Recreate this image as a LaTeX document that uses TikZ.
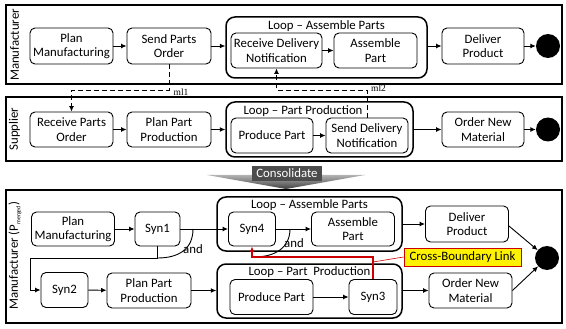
\documentclass[tikz,border=0pt]{standalone}
\usepackage{fontspec}
\setmainfont{Carlito}
\newfontfamily\msgfont{Liberation Serif}
\usetikzlibrary{arrows.meta,calc}

\begin{document}
\begin{tikzpicture}[x=1pt,y=-1pt,
  font=\fontsize{12.8}{14.5}\selectfont,
  act/.style={draw, rounded corners=5pt, line width=0.9pt, align=center,
    inner sep=0pt, minimum height=35pt},
  syn/.style={act, minimum width=47pt},
  loopbox/.style={draw, rounded corners=9pt, line width=1.5pt, inner sep=0pt},
  lane/.style={draw, line width=1.6pt},
  flow/.style={-{Latex[length=5.5pt,width=5pt]}, line width=0.9pt},
  msg/.style={-{Latex[length=5.5pt,width=5pt]}, line width=0.9pt,
    dash pattern=on 5pt off 3pt},
  msglabel/.style={font=\msgfont\fontsize{9.5}{10}\selectfont, inner sep=0pt},
  finalnode/.style={circle, fill=black, minimum size=24pt, inner sep=0pt},
  xlink/.style={-{Latex[length=5.5pt,width=5pt]}, line width=1.2pt, draw=red!80!black},
  andarc/.style={line width=0.9pt},
  lanelabel/.style={rotate=90, inner sep=0pt}
]
\useasboundingbox (0,0) rectangle (566,329);

% ---------------- Manufacturer lane ----------------
\draw[lane] (6,5) rectangle (562,84);
\node[lanelabel] (lm) at (14.5,45) {Manufacturer};

\node[loopbox, minimum width=201pt, minimum height=61pt] (la1) at (326.5,47.5) {};
\node (la1t) at (326.5,26) {Loop \textendash{} Assemble Parts};

\node[act, minimum width=83pt, minimum height=36pt] (pm1) at (71.5,46) {Plan\\Manufacturing};
\node[act, minimum width=84pt, minimum height=36pt] (spo) at (169,46) {Send Parts\\Order};
\node[act, minimum width=91pt] (rdn) at (276.5,50.5) {Receive Delivery\\Notification};
\node[act, minimum width=83pt] (ap1) at (375.5,50.5) {Assemble\\Part};
\node[act, minimum width=82pt, minimum height=36pt] (dp1) at (483,46) {Deliver\\Product};
\node[finalnode] (e1) at (548,46) {};

\draw[flow] (pm1) -- (spo);
\draw[flow] (spo.east) -- (spo.east -| la1.west);
\draw[flow] (rdn) -- (ap1);
\draw[flow] (dp1.west -| la1.east) -- (dp1.west);
\draw[flow] (dp1) -- (e1);

% ---------------- Supplier lane ----------------
\draw[lane] (6,97) rectangle (562,161);
\node[lanelabel] (ls) at (14.5,129) {Supplier};

\node[loopbox, minimum width=187pt, minimum height=55pt] (lp1) at (319.5,129.5) {};
\node (lp1t) at (303,111) {Loop \textendash{} Part Production};

\node[act, minimum width=83pt] (rpo) at (71.5,129.5) {Receive Parts\\Order};
\node[act, minimum width=84pt] (ppp1) at (169,129.5) {Plan Part\\Production};
\node[act, minimum width=82pt] (pp1) at (272,135.5) {Produce Part};
\node[act, minimum width=82pt] (sdn) at (367,135.5) {Send Delivery\\Notification};
\node[act, minimum width=82pt] (onm1) at (483,129.5) {Order New\\Material};
\node[finalnode] (e2) at (548,129.5) {};

\draw[flow] (rpo) -- (ppp1);
\draw[flow] (ppp1.east) -- (ppp1.east -| lp1.west);
\draw[flow] (pp1) -- (sdn);
\draw[flow] (onm1.west -| lp1.east) -- (onm1.west);
\draw[flow] (onm1) -- (e2);

% message links between the two lanes
\coordinate (m1a) at (169,90);
\coordinate (m1b) at (71.5,90);
\draw[msg] (spo.south) -- (m1a) -- (m1b) -- (rpo.north);
\node[msglabel] (m1l) at (181,92.5) {ml1};

\coordinate (m2a) at (367,90);
\coordinate (m2b) at (276.5,90);
\draw[msg] (sdn.north) -- (m2a) -- (m2b) -- (rdn.south);
\node[msglabel] (m2l) at (378.5,88) {ml2};

% ---------------- Consolidate arrow ----------------
\shade[top color=gray!60, bottom color=black!75]
  (207,175) -- (365,175) -- (286,189) -- cycle;
\node[fill=black!70, text=white, minimum width=70pt, minimum height=15pt,
  inner sep=0pt] (cons) at (287,173.5) {Consolidate};

% ---------------- Merged lane ----------------
\draw[lane] (6,190) rectangle (562,323);
\node[lanelabel] (lmm) at (15,256)
  {Manufacturer (P\raisebox{-2.5pt}{\fontsize{6}{6}\selectfont merged})};

\node[loopbox, minimum width=185pt, minimum height=54pt] (la2) at (309.5,224) {};
\node (la2t) at (309.5,205) {Loop \textendash{} Assemble Parts};
\node[loopbox, minimum width=185pt, minimum height=54pt] (lp2) at (309.5,291) {};
\node (lp2t) at (309.5,272) {Loop \textendash{} Part\ \ Production};

\node[act, minimum width=83pt, minimum height=34pt] (pm2) at (73,229) {Plan\\Manufacturing};
\node[syn, minimum width=45pt, minimum height=34pt] (syn1) at (157.5,229) {Syn1};
\node[syn, minimum height=34pt] (syn4) at (252,229) {Syn4};
\node[act, minimum width=83pt, minimum height=34pt] (ap2) at (353,229) {Assemble\\Part};
\node[act, minimum width=83pt, minimum height=36pt] (dp2) at (467,224) {Deliver\\Product};
\node[syn] (syn2) at (64.5,290) {Syn2};
\node[act, minimum width=84pt] (ppp2) at (149,290.5) {Plan Part\\Production};
\node[act, minimum width=83pt] (pp2) at (271.5,297) {Produce Part};
\node[syn, minimum width=48pt] (syn3) at (373,297) {Syn3};
\node[act, minimum width=83pt] (onm2) at (470.5,290.5) {Order New\\Material};
\node[finalnode] (e3) at (547,258) {};

\draw[flow] (pm2) -- (syn1);
\draw[flow] (syn1) -- (syn4);
\coordinate (s1a) at (157.5,258);
\coordinate (s1b) at (30,258);
\draw[flow] (syn1.south) -- (s1a) -- (s1b) |- (syn2.west);
\draw[andarc] (193,229) .. controls (193,248) and (180,258) .. (s1a);
\node[inner sep=0pt] (and1) at (193,249) {and};

\draw[flow] (syn4) -- (ap2);
\coordinate (ry) at (0,257);
\draw[andarc] (290,229) .. controls (290,247) and (276,257) .. (254,257);
\node[inner sep=0pt] (and2) at (294,243) {and};

\draw[flow] (syn2) -- (ppp2);
\draw[flow] (ppp2.east) -- (ppp2.east -| lp2.west);
\draw[flow] (pp2) -- (syn3);
\draw[flow] (onm2.west -| lp2.east) -- (onm2.west);
\draw[flow] (dp2.west -| la2.east) -- (dp2.west);
\draw[flow] ([yshift=-2pt]dp2.east) -- (e3);
\draw[flow] (onm2.east) -- (e3);

% cross-boundary link and its callout
\draw[xlink] (syn3.north) -- (syn3.north |- ry) -- (syn4.south |- ry) -- (syn4.south);
\node[draw=red!80!black, fill=yellow, line width=1pt, minimum width=117pt,
  minimum height=18pt, inner sep=0pt] (cbl) at (462.5,257) {Cross-Boundary Link};
\draw[red!80!black, line width=0.6pt] ([yshift=-5pt]syn3.north |- ry) -- (cbl.west);
\end{tikzpicture}
\end{document}
